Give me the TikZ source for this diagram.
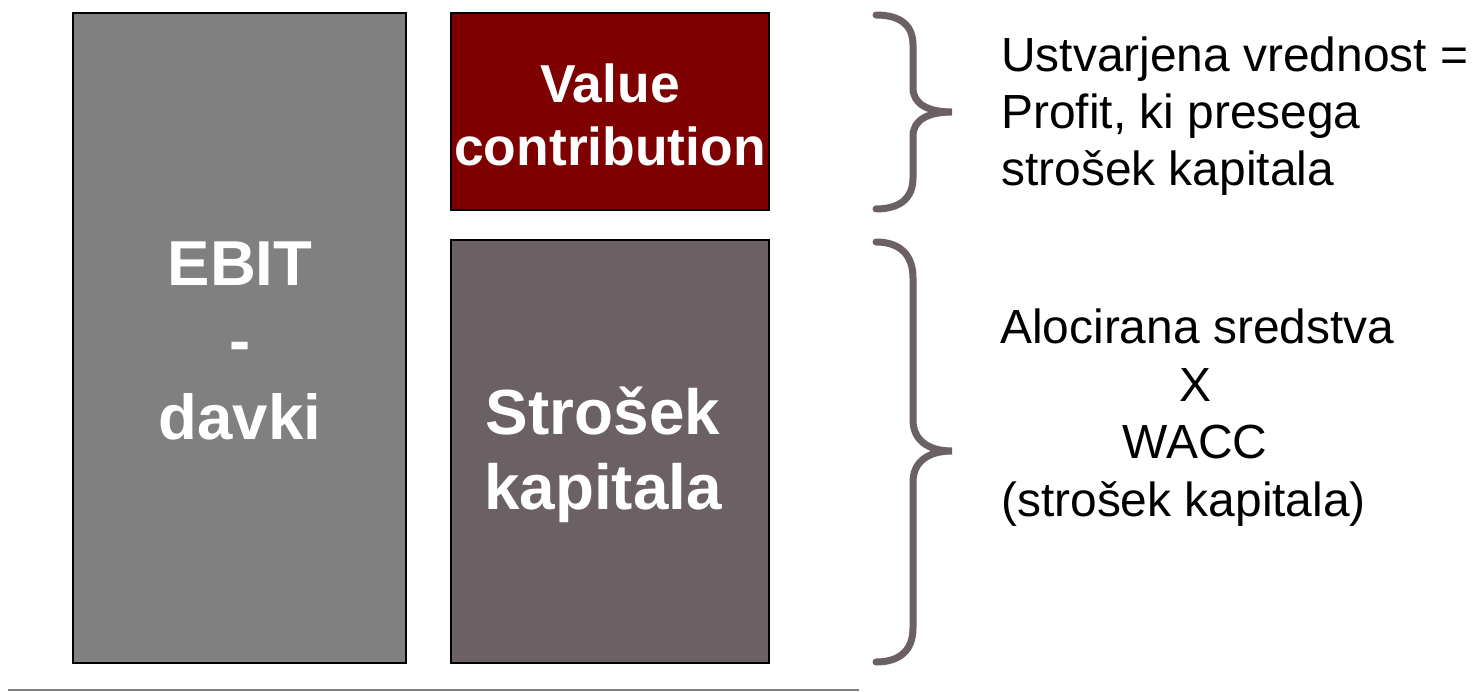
\documentclass[tikz,border=0pt]{standalone}
\usepackage{fontspec}
\setmainfont{Liberation Sans}
\definecolor{boxgray}{HTML}{808080}
\definecolor{valred}{HTML}{7F0000}
\definecolor{capgray}{HTML}{6B6063}
\definecolor{linegray}{HTML}{808080}
\begin{document}
\begin{tikzpicture}[x=1pt,y=-1pt,
  blk/.style={draw=black,line width=2pt,inner sep=0pt},
  blktext/.style={text=white,font=\bfseries,align=center},
  brace/.style={draw=capgray,line width=7pt,line cap=round},
  rtext/.style={font=\fontsize{47.9}{57}\selectfont,inner sep=0pt}]
\useasboundingbox (0,0) rectangle (1474,692);
% boxes
\path[blk,fill=boxgray] (73,13) rectangle (406,663);
\node (ebitbox) at (239.5,338) {};
\path[blk,fill=valred] (451,13) rectangle (769,210);
\node (valbox) at (610,111) {};
\path[blk,fill=capgray] (451,240) rectangle (769,663);
\node (capbox) at (610,451) {};
% box texts
\node[blktext,font=\bfseries\fontsize{63.5}{77}\selectfont] (ebit) at (240,341) {EBIT\\-\\davki};
\node[blktext,font=\bfseries\fontsize{53.4}{63}\selectfont] (val) at (610,115) {Value\\contribution};
\node[blktext,font=\bfseries\fontsize{63.8}{75}\selectfont] (cap) at (603,455) {Strošek\\kapitala};
% braces
\coordinate (b1s) at (876,15);
\coordinate (b1t) at (952,112);
\coordinate (b1e) at (876,209);
\draw[brace] (b1s) .. controls (900,15) and (913,25) .. (913,45) -- (913,88)
  .. controls (913,104) and (928,112) .. (b1t)
  .. controls (928,112) and (913,120) .. (913,136) -- (913,178)
  .. controls (913,198) and (900,209) .. (b1e);
\coordinate (b2s) at (876,242);
\coordinate (b2t) at (952,451);
\coordinate (b2e) at (876,662);
\draw[brace] (b2s) .. controls (900,242) and (913,255) .. (913,278) -- (913,420)
  .. controls (913,440) and (928,451) .. (b2t)
  .. controls (928,451) and (913,462) .. (913,482) -- (913,628)
  .. controls (913,650) and (900,662) .. (b2e);
% right texts
\node[rtext,anchor=base west] (t1) at (1001,72) {Ustvarjena vrednost =};
\node[rtext,anchor=base west] (t2) at (1001,129) {Profit, ki presega};
\node[rtext,anchor=base west] (t3) at (1001,186) {strošek kapitala};
\node[rtext,anchor=base west] (a1) at (1000,343) {Alocirana sredstva};
\node[rtext,anchor=base] (a2) at (1195,401) {X};
\node[rtext,anchor=base] (a3) at (1195,458) {WACC};
\node[rtext,anchor=base west] (a4) at (1001,516) {(strošek kapitala)};
% bottom line
\coordinate (l1) at (8,690);
\coordinate (l2) at (859,690);
\draw[linegray,line width=2pt] (l1) -- (l2);
\end{tikzpicture}
\end{document}
